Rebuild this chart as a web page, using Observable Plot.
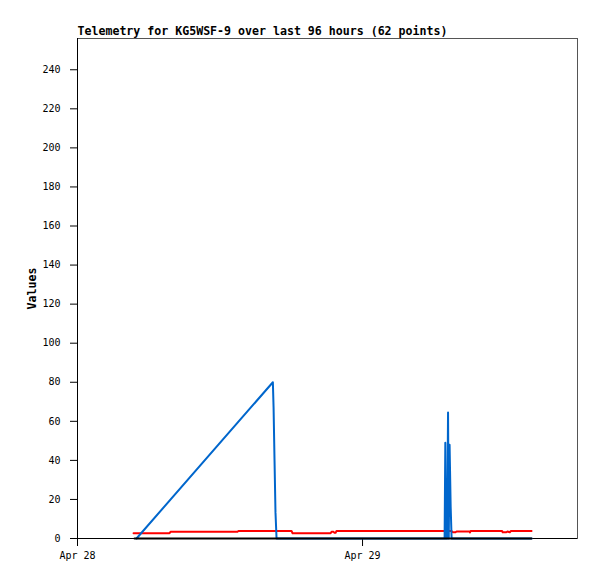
<!DOCTYPE html>
<html>
<head>
<meta charset="utf-8">
<script src="https://cdn.jsdelivr.net/npm/d3@7"></script>
<script src="https://cdn.jsdelivr.net/npm/@observablehq/plot@0.6"></script>
<style>
  html, body { margin: 0; padding: 0; background: #fff; }
</style>
</head>
<body>
<div id="chart"></div>
<script>
// Text
const titleText = "Telemetry for KG5WSF-9 over last 96 hours (62 points)";
const yLabel = "Values";

// Time is given as hours after 2024-04-28 00:00 UTC
const startDate = "2024-04-28T00:00:00Z";
const xEndHours = 42.1;
const xTickHours = [0, 24];
const yTicks = [0, 20, 40, 60, 80, 100, 120, 140, 160, 180, 200, 220, 240];
const yMax = 256;

// Red series
const redHours  = [4.72, 7.75, 7.83, 13.47, 13.56, 18.02, 18.11, 21.31, 21.39, 21.56, 21.64, 21.73, 21.81, 30.91, 31.49, 31.58, 31.83, 31.92, 33.0, 33.05, 33.1, 35.75, 35.8, 36.1, 36.2, 36.4, 36.5, 38.23];
const redValues = [2.7, 2.7, 3.4, 3.4, 3.9, 3.9, 2.7, 2.7, 3.4, 3.4, 2.9, 2.9, 3.9, 3.9, 3.9, 3.2, 3.2, 3.6, 3.6, 3.1, 3.9, 3.9, 3.2, 3.2, 3.6, 3.2, 3.9, 3.9];

// Blue series
const blueHours  = [4.97, 16.45, 16.51, 16.59, 16.67, 16.76, 30.91, 30.97, 31.02, 31.08, 31.12, 31.20, 31.26, 31.33, 31.42, 31.50, 38.23];
const blueValues = [0, 80, 67, 40, 13.5, 0, 0, 49, 0, 8, 0, 64.5, 0, 48, 16.4, 0, 0];

// Black series
const blackHours  = [4.8, 38.23];
const blackValues = [0, 0];

const base = new Date(startDate).getTime();
const toDate = h => new Date(base + h * 3600e3);
const series = (hours, values) => hours.map((h, i) => ({t: toDate(h), v: values[i]}));

const red = series(redHours, redValues);
const blue = series(blueHours, blueValues);
const black = series(blackHours, blackValues);

const mono = "DejaVu Sans Mono";

const chart = Plot.plot({
  width: 597,
  height: 579,
  marginLeft: 77,
  marginRight: 20,
  marginTop: 38,
  marginBottom: 41,
  style: {fontFamily: mono, fontSize: "10px", background: "#fff", color: "#000", overflow: "visible"},
  x: {type: "utc", domain: [toDate(0), toDate(xEndHours)]},
  y: {domain: [0, yMax]},
  marks: [
    Plot.frame({stroke: "#555"}),
    Plot.ruleX([toDate(0)], {stroke: "#000"}),
    Plot.ruleY([0], {stroke: "#000"}),
    Plot.axisY({ticks: yTicks, tickSize: 7, tickPadding: 10, label: null, fontSize: 10, fontFamily: mono}),
    Plot.axisX({ticks: xTickHours.map(toDate), tickFormat: d3.utcFormat("%b %d"), tickSize: 8, tickPadding: 5, label: null, fontSize: 10, fontFamily: mono}),
    Plot.line(red, {x: "t", y: "v", stroke: "#ff0000", strokeWidth: 2}),
    Plot.line(blue, {x: "t", y: "v", stroke: "#0066cc", strokeWidth: 2}),
    Plot.line(black, {x: "t", y: "v", stroke: "#000", strokeWidth: 2}),
    Plot.text([titleText], {frameAnchor: "top-left", dy: -7, textAnchor: "start", lineAnchor: "middle", fontWeight: "bold", fontSize: 11.6, fontFamily: mono, fill: "#000"}),
    Plot.text([yLabel], {frameAnchor: "left", dx: -45, rotate: -90, textAnchor: "middle", lineAnchor: "middle", fontWeight: "bold", fontSize: 11.6, fontFamily: mono, fill: "#000"})
  ]
});
document.getElementById("chart").appendChild(chart);
</script>
</body>
</html>
